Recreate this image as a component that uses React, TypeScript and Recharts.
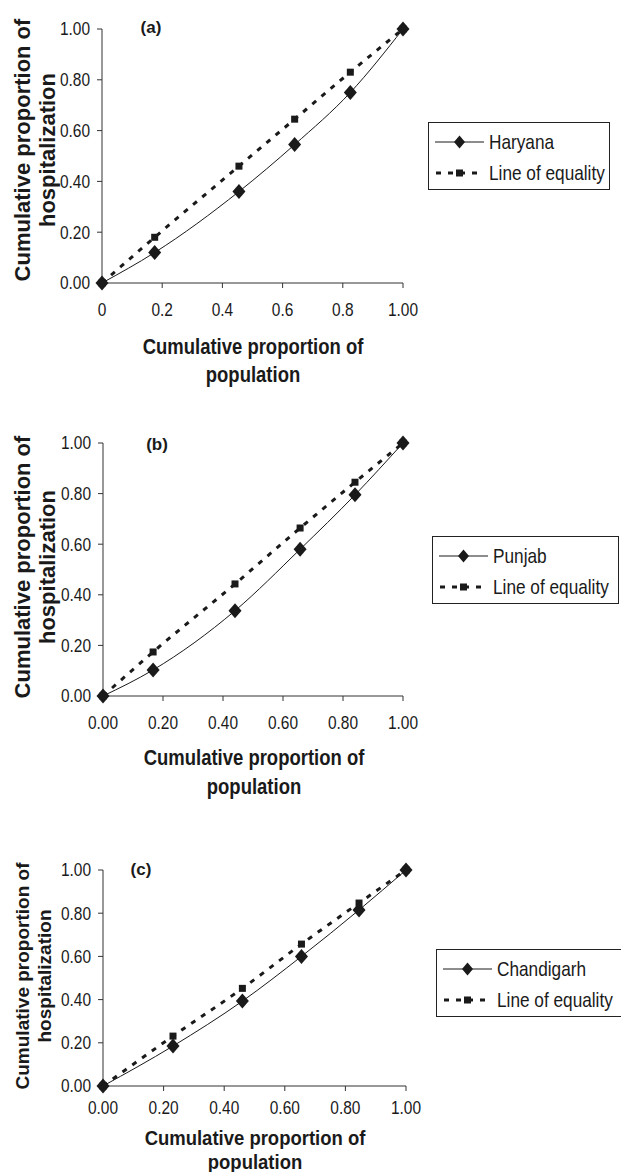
import { LineChart, Line, XAxis, YAxis, Legend } from 'recharts';

// cumulative proportion of population (x) vs hospitalization (y)
const haryanaX = [0, 0.175, 0.455, 0.64, 0.825, 1];
const haryanaY = [0, 0.12, 0.36, 0.545, 0.75, 1];
const haryanaEq = [0, 0.18, 0.46, 0.645, 0.83, 1];

const punjabX = [0, 0.167, 0.44, 0.657, 0.84, 1];
const punjabY = [0, 0.103, 0.337, 0.58, 0.795, 1];
const punjabEq = [0, 0.174, 0.443, 0.664, 0.845, 1];

const chandigarhX = [0, 0.231, 0.46, 0.655, 0.845, 1];
const chandigarhY = [0, 0.185, 0.393, 0.6, 0.815, 1];
const chandigarhEq = [0, 0.231, 0.452, 0.657, 0.847, 1];

const tickValues = [0, 0.2, 0.4, 0.6, 0.8, 1];
const xLabelsShort = ['0', '0.2', '0.4', '0.6', '0.8', '1.00'];
const xLabelsLong = ['0.00', '0.20', '0.40', '0.60', '0.80', '1.00'];
const yLabels = ['0.00', '0.20', '0.40', '0.60', '0.80', '1.00'];

const SANS = "'Liberation Sans', Arial, sans-serif";
const INK = '#1a1a1a';
const SQUEEZE = 0.82; // the original figure is horizontally compressed
const TICK_SQUEEZE = 0.86;

function buildRows(xs: number[], ys: number[], eq: number[]) {
  return xs.map((x, i) => ({ x, share: ys[i], equal: eq[i] }));
}

const renderDiamond = (p: any) => {
  if (p.cx == null || p.cy == null) return <g key={p.index} />;
  const { cx, cy } = p;
  return (
    <path
      key={`d-${p.index}`}
      d={`M${cx},${cy - 7.5}L${cx + 6.5},${cy}L${cx},${cy + 7.5}L${cx - 6.5},${cy}Z`}
      fill={INK}
    />
  );
};

const renderSquare = (p: any) => {
  if (p.cx == null || p.cy == null) return <g key={p.index} />;
  return <rect key={`s-${p.index}`} x={p.cx - 3.5} y={p.cy - 3.5} width={7} height={7} fill={INK} />;
};

function labelFor(labels: string[], v: number) {
  return labels[Math.round(v * 5)];
}

const makeXTick = (labels: string[]) => (props: any) => (
  <text
    x={0}
    y={0}
    dy="0.71em"
    textAnchor="middle"
    transform={`translate(${props.x},${props.y}) scale(${TICK_SQUEEZE},1)`}
    fontSize={18}
    fontFamily={SANS}
    fill={INK}
  >
    {labelFor(labels, props.payload.value)}
  </text>
);

const renderYTick = (props: any) => (
  <text
    x={0}
    y={0}
    dy="0.355em"
    textAnchor="end"
    transform={`translate(${props.x},${props.y}) scale(${TICK_SQUEEZE},1)`}
    fontSize={18}
    fontFamily={SANS}
    fill={INK}
  >
    {labelFor(yLabels, props.payload.value)}
  </text>
);

function Squeezed({ children, size, bold }: { children: React.ReactNode; size: number; bold?: boolean }) {
  return (
    <span
      style={{
        display: 'inline-block',
        transform: `scaleX(${SQUEEZE})`,
        transformOrigin: 'left center',
        fontFamily: SANS,
        fontSize: size,
        fontWeight: bold ? 'bold' : 'normal',
        whiteSpace: 'nowrap',
      }}
    >
      {children}
    </span>
  );
}

function LegendBox({ name }: { name: string }) {
  const row = { display: 'flex', alignItems: 'center', height: 31 } as const;
  return (
    <div
      style={{
        border: '1px solid #222',
        background: '#fff',
        padding: '3px 6px 0 6px',
        height: 63,
        color: INK,
        whiteSpace: 'nowrap',
      }}
    >
      <div style={row}>
        <svg width={50} height={20} style={{ flexShrink: 0 }}>
          <line x1={0} y1={10} x2={49} y2={10} stroke={INK} strokeWidth={1} />
          <path d="M24.5,3.5L30,10L24.5,16.5L19,10Z" fill={INK} />
        </svg>
        <span style={{ marginLeft: 4 }}>
          <Squeezed size={21}>{name}</Squeezed>
        </span>
      </div>
      <div style={row}>
        <svg width={50} height={20} style={{ flexShrink: 0 }}>
          <line x1={1} y1={10} x2={49} y2={10} stroke={INK} strokeWidth={3} strokeDasharray="5 7" />
          <rect x={21} y={6.5} width={7} height={7} fill={INK} />
        </svg>
        <span style={{ marginLeft: 4 }}>
          <Squeezed size={21}>Line of equality</Squeezed>
        </span>
      </div>
    </div>
  );
}

type PanelProps = {
  top: number;
  tag: string;
  tagPos: [number, number];
  name: string;
  rows: { x: number; share: number; equal: number }[];
  xLabels: string[];
  margin: { top: number; right: number; bottom: number; left: number };
  xTickMargin: number;
  legendPos: [number, number, number];
  yTitle: { cx: number; cy: number; size: number; lh: number };
  xTitle: { cx: number; y1: number; y2: number; size: number };
};

const CH = 372;

function Panel(p: PanelProps) {
  return (
    <div style={{ position: 'absolute', left: 0, top: p.top, width: 621, height: CH }}>
      <LineChart width={621} height={CH} data={p.rows} margin={p.margin}>
        <XAxis
          dataKey="x"
          type="number"
          domain={[0, 1]}
          ticks={tickValues}
          height={30}
          tickSize={5}
          tickMargin={p.xTickMargin}
          stroke="#333"
          tick={makeXTick(p.xLabels)}
        />
        <YAxis
          type="number"
          domain={[0, 1]}
          ticks={tickValues}
          width={60}
          tickSize={5}
          tickMargin={7}
          stroke="#333"
          tick={renderYTick}
        />
        <Legend
          layout="vertical"
          align="center"
          verticalAlign="middle"
          wrapperStyle={{ left: p.legendPos[0], top: p.legendPos[1], width: p.legendPos[2], bottom: 'auto' }}
          content={() => <LegendBox name={p.name} />}
        />
        <Line
          type="monotone"
          dataKey="equal"
          stroke={INK}
          strokeWidth={3}
          strokeDasharray="5 7"
          dot={renderSquare}
          activeDot={false}
          isAnimationActive={false}
        />
        <Line
          type="monotone"
          dataKey="share"
          stroke={INK}
          strokeWidth={1}
          dot={renderDiamond}
          activeDot={false}
          isAnimationActive={false}
        />
      </LineChart>

      <div
        style={{
          position: 'absolute',
          left: p.tagPos[0],
          top: p.tagPos[1],
          transform: 'translate(-50%, -50%)',
          fontFamily: SANS,
          fontWeight: 'bold',
          fontSize: 17,
          color: INK,
        }}
      >
        {p.tag}
      </div>

      <div
        style={{
          position: 'absolute',
          left: p.yTitle.cx,
          top: p.yTitle.cy,
          transform: 'translate(-50%, -50%) rotate(-90deg)',
          fontFamily: SANS,
          fontWeight: 'bold',
          fontSize: p.yTitle.size,
          lineHeight: `${p.yTitle.lh}px`,
          textAlign: 'center',
          whiteSpace: 'nowrap',
          color: INK,
        }}
      >
        Cumulative proportion of
        <br />
        hospitalization
      </div>

      {[['Cumulative proportion of', p.xTitle.y1], ['population', p.xTitle.y2]].map(([t, y]) => (
        <div
          key={t as string}
          style={{
            position: 'absolute',
            left: p.xTitle.cx,
            top: y as number,
            transform: `translate(-50%, -50%) scaleX(${(SQUEEZE + 0.02) * 22 / p.xTitle.size})`,
            fontFamily: SANS,
            fontWeight: 'bold',
            fontSize: p.xTitle.size,
            lineHeight: 1,
            whiteSpace: 'nowrap',
            color: INK,
          }}
        >
          {t}
        </div>
      ))}
    </div>
  );
}

export default function App() {
  return (
    <div
      style={{
        position: 'absolute',
        left: 0,
        top: 0,
        width: 621,
        height: 1172,
        overflow: 'hidden',
        background: '#fff',
      }}
    >
      <Panel
        top={0}
        tag="(a)"
        tagPos={[151, 28]}
        name="Haryana"
        rows={buildRows(haryanaX, haryanaY, haryanaEq)}
        xLabels={xLabelsShort}
        margin={{ top: 29, right: 218, bottom: CH - 283 - 30, left: 42 }}
        xTickMargin={15}
        legendPos={[428, 122, 182]}
        yTitle={{ cx: 35, cy: 150, size: 22, lh: 25 }}
        xTitle={{ cx: 253, y1: 347, y2: 375, size: 22 }}
      />
      <Panel
        top={400}
        tag="(b)"
        tagPos={[157, 45]}
        name="Punjab"
        rows={buildRows(punjabX, punjabY, punjabEq)}
        xLabels={xLabelsLong}
        margin={{ top: 43, right: 218, bottom: CH - 296 - 30, left: 43 }}
        xTickMargin={15}
        legendPos={[432, 136, 187]}
        yTitle={{ cx: 35, cy: 167, size: 22, lh: 25 }}
        xTitle={{ cx: 254, y1: 358, y2: 387, size: 22 }}
      />
      <Panel
        top={800}
        tag="(c)"
        tagPos={[141, 70]}
        name="Chandigarh"
        rows={buildRows(chandigarhX, chandigarhY, chandigarhEq)}
        xLabels={xLabelsLong}
        margin={{ top: 70, right: 215, bottom: CH - 286 - 30, left: 43 }}
        xTickMargin={10}
        legendPos={[436, 149, 200]}
        yTitle={{ cx: 34, cy: 176, size: 19, lh: 22 }}
        xTitle={{ cx: 255, y1: 337, y2: 361, size: 21 }}
      />
    </div>
  );
}
